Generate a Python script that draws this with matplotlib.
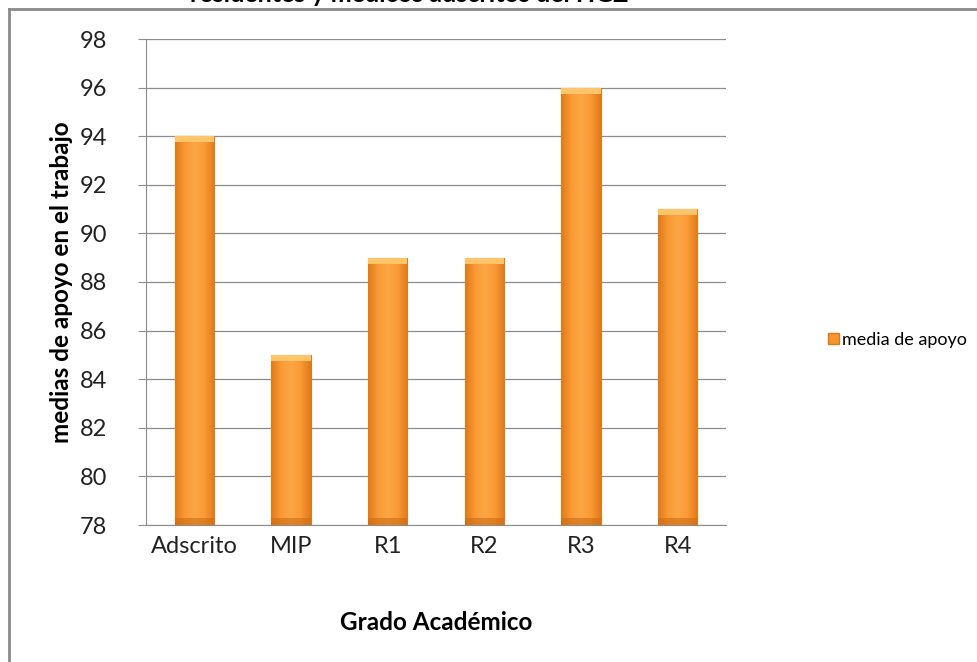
import numpy as np
import matplotlib
matplotlib.use("Agg")
import matplotlib.pyplot as plt
from matplotlib.colors import LinearSegmentedColormap
from matplotlib.patches import Rectangle
from matplotlib.lines import Line2D

plt.rcParams["font.family"] = ["Lato", "DejaVu Sans"]

categories = ["Adscrito", "MIP", "R1", "R2", "R3", "R4"]
values = [94, 85, 89, 89, 96, 91]
yticks = [78, 80, 82, 84, 86, 88, 90, 92, 94, 96, 98]

fig = plt.figure(figsize=(9.78, 6.62), dpi=100)
ax = fig.add_axes([146 / 978, 137 / 662, 580 / 978, 486 / 662])

bars = ax.bar(categories, [v - 78 for v in values], bottom=78, width=0.41,
              color="#F7962F", edgecolor="#D87A1E", linewidth=0.8, zorder=2)

# horizontal gradient inside each bar (darker edges, bright middle)
cmap = LinearSegmentedColormap.from_list(
    "bar", ["#E07A1A", "#F99A35", "#FBA645", "#F99A35", "#E07A1A"])
grad = np.linspace(0, 1, 64).reshape(1, -1)
for b in bars:
    x0, y0 = b.get_x(), b.get_y()
    w, h = b.get_width(), b.get_height()
    im = ax.imshow(grad, cmap=cmap, aspect="auto", zorder=3,
                   extent=[x0, x0 + w, y0, y0 + h])
    im.set_clip_path(b)
    # top highlight and dark base
    ax.add_patch(Rectangle((x0, y0 + h - 0.25), w, 0.25, color="#FDC46A", zorder=4, lw=0))
    ax.add_patch(Rectangle((x0, y0), w, 0.3, color="#CE6A12", alpha=0.6, zorder=4, lw=0))

ax.set_xlim(-0.5, 5.5)
ax.set_ylim(78, 98)
ax.set_yticks(yticks)
ax.grid(axis="y", color="#8c8c8c", linewidth=0.9, zorder=0)
for s in ["top", "right"]:
    ax.spines[s].set_visible(False)
ax.spines["left"].set_color("#8c8c8c")
ax.spines["bottom"].set_color("#8c8c8c")
ax.tick_params(axis="x", labelsize=17, colors="#222222", length=0, pad=8)
ax.tick_params(axis="y", labelsize=17, colors="#222222", length=6,
               color="#8c8c8c", direction="out", pad=22)

ax.set_ylabel("medias de apoyo en el trabajo", fontsize=17.5, fontweight="bold", labelpad=5)
ax.set_xlabel("Grado Académico", fontsize=17.5, fontweight="bold", labelpad=39)

# legend
handle = Rectangle((0, 0), 1, 1, facecolor="#F7962F", edgecolor="#D87A1E")
fig.legend([handle], ["media de apoyo"], loc="center left",
           bbox_to_anchor=(812 / 978, 1 - 340 / 662), frameon=False,
           fontsize=13, handlelength=0.6, handleheight=0.6, handletextpad=0.15)

# chart frame (only top and left edges visible)
fig.add_artist(Line2D([9 / 978, 1], [1 - 9 / 662, 1 - 9 / 662],
                      transform=fig.transFigure, color="#8a8a8a", lw=2))
fig.add_artist(Line2D([9 / 978, 9 / 978], [0, 1 - 9 / 662],
                      transform=fig.transFigure, color="#8a8a8a", lw=2))

# title cut off by the top edge
fig.text(409 / 978, 1 - 2 / 662, "residentes y médicos adscritos del HGZ",
         ha="center", va="baseline", fontsize=18, fontweight="bold")

fig.savefig("out.png", dpi=100)
